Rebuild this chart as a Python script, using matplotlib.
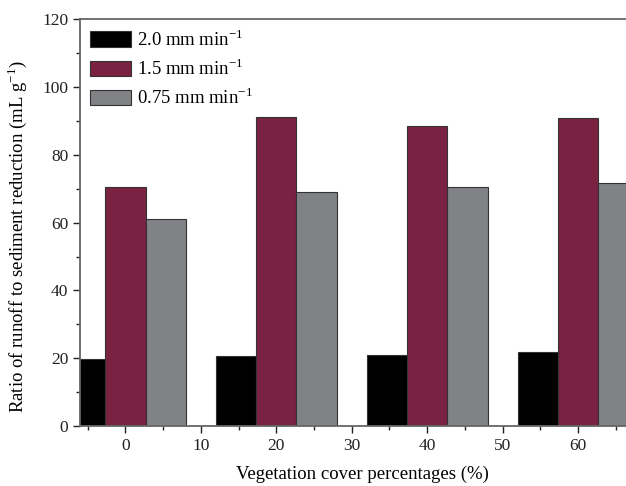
import numpy as np
import matplotlib
matplotlib.use("Agg")
import matplotlib.pyplot as plt
from matplotlib.ticker import MultipleLocator

cover = [0, 20, 40, 60]
rate_labels = ["2.0 mm min$^{-1}$", "1.5 mm min$^{-1}$", "0.75 mm min$^{-1}$"]
r20 = [19.8, 20.7, 20.9, 21.7]
r15 = [70.6, 91.2, 88.5, 90.9]
r075 = [61.2, 69.2, 70.6, 71.7]
colors = ["#000000", "#7a2241", "#808285"]

plt.rcParams['font.family'] = ['Liberation Serif', 'DejaVu Serif']
plt.rcParams['mathtext.fontset'] = 'custom'
plt.rcParams['mathtext.rm'] = 'Liberation Serif'

fig = plt.figure(figsize=(6.26, 4.86), dpi=100)
ax = fig.add_axes([0.128, 0.1235, 0.875, 0.8365])

w = 16 / 3
x = np.array(cover, dtype=float)
for i, (vals, lab, c) in enumerate(zip([r20, r15, r075], rate_labels, colors)):
    ax.bar(x + (i - 1) * w, vals, width=w, color=c, edgecolor="#333333",
           linewidth=0.8, label=lab)

ax.set_xlim(-6, 66.6)
ax.set_ylim(0, 120)
ax.xaxis.set_major_locator(MultipleLocator(10))
ax.xaxis.set_minor_locator(MultipleLocator(5))
ax.yaxis.set_major_locator(MultipleLocator(20))
ax.yaxis.set_minor_locator(MultipleLocator(10))
ax.tick_params(which='major', length=5, width=1, labelsize=12.5, colors='#222222')
ax.tick_params(which='minor', length=3, width=1, colors='#222222')
for s in ['left', 'bottom', 'top']:
    ax.spines[s].set_color('#666666')
    ax.spines[s].set_linewidth(1.3)
ax.spines['right'].set_visible(False)

ax.set_xlabel("Vegetation cover percentages (%)", fontsize=13.5)
ax.set_ylabel("Ratio of runoff to sediment reduction (mL g$^{-1}$)", fontsize=13.5)
ax.xaxis.set_label_coords(0.515, -0.098)
ax.yaxis.set_label_coords(-0.094, 0.465)

leg = ax.legend(loc='upper left', frameon=False, fontsize=13.5, handlelength=2.2,
                handleheight=0.9, handletextpad=0.35, labelspacing=0.45,
                borderaxespad=0.25, borderpad=0.25)

fig.savefig("out.png", dpi=100)
